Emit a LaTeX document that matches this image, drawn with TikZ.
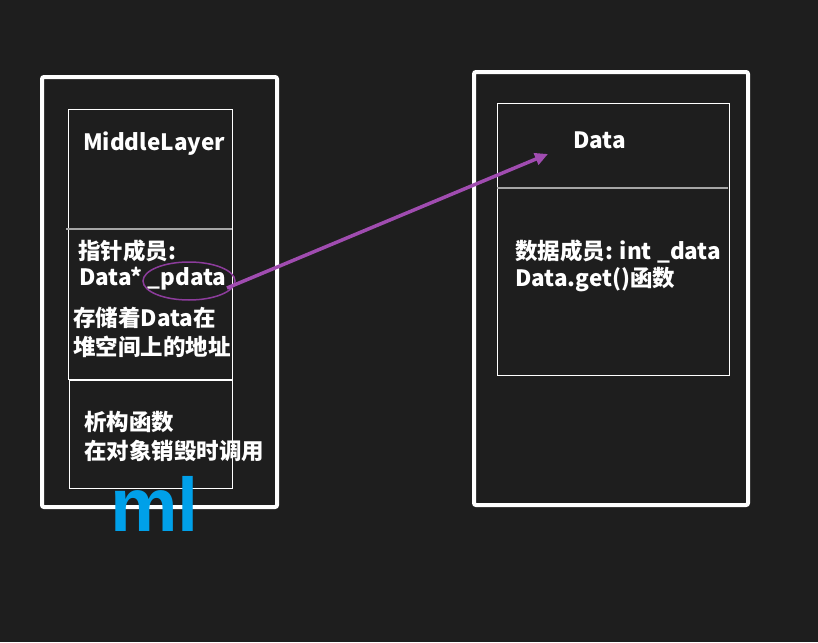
\documentclass[tikz,border=0pt]{standalone}
\usepackage{fontspec}
\setmainfont{Noto Sans CJK SC}
\newfontfamily\mlfont{Liberation Sans}
\usetikzlibrary{shapes.geometric,arrows.meta}
\definecolor{bg}{RGB}{30,30,30}
\definecolor{ptr}{RGB}{160,76,176}
\definecolor{ptrring}{RGB}{140,60,155}
\definecolor{mlblue}{RGB}{0,160,233}
\begin{document}
\begin{tikzpicture}
		[x=1pt,y=-1pt,
		frame/.style= {draw=white,line width=4pt,rounded corners=2pt,inner sep=0pt},
		box/.style= {draw=white,line width=1pt,inner sep=0pt},
		sep/.style= {draw=white!65!black,line width=1.5pt},
		txt/.style= {text=white,anchor=west,inner sep=0pt,font=\fontsize{22.5}{27}\selectfont\bfseries}]

		\path[fill=bg] (0,0) rectangle (818,642);

		% MiddleLayer object
		\node[frame,minimum width=235pt,minimum height=430pt] (mlOuter) at (159.5,292) {};
		\node[box,minimum width=164pt,minimum height=270pt] (mlTop) at (150,244) {};
		\node[box,minimum width=163pt,minimum height=108pt] (mlBot) at (150.5,434) {};
		\draw[sep] (66,229) -- (232,229);

		\node[txt] (mlName) at (83,144) {MiddleLayer};
		\node[txt] (mlPtr) at (78,251) {指针成员:};
		\node[txt] (mlPdata) at (79,279) {Data* \_pdata};
		\node[txt] (mlNote1) at (73,318) {存储着Data在};
		\node[txt] (mlNote2) at (73,347) {堆空间上的地址};
		\node[txt] (mlDtor1) at (84,422) {析构函数};
		\node[txt] (mlDtor2) at (84,451) {在对象销毁时调用};

		\node[anchor=base west,inner sep=0pt,text=mlblue,font=\mlfont\fontsize{76}{84}\selectfont\bfseries] (mlLabel) at (110,531) {ml};

		% Data object
		\node[frame,minimum width=274pt,minimum height=433pt] (dOuter) at (611,288.5) {};
		\node[box,minimum width=232pt,minimum height=272pt] (dIn) at (613,239) {};
		\draw[sep] (497,188) -- (728,188);

		\node[txt] (dName) at (573,140) {Data};
		\node[txt] (dMember) at (515,252) {数据成员: int \_data};
		\node[txt] (dGet) at (515,280) {Data.get()函数};

		% pointer
		\node[ellipse,draw=ptrring,line width=1.5pt,minimum width=92pt,minimum height=38pt,inner sep=0pt] (ring) at (189,281) {};
		\coordinate (pStart) at (227,288);
		\coordinate (pEnd) at (548,154);
		\draw[ptr,line width=3.5pt,-{Triangle[length=13pt,width=12pt]}] (pStart) -- (pEnd);

	\end{tikzpicture}
\end{document}
